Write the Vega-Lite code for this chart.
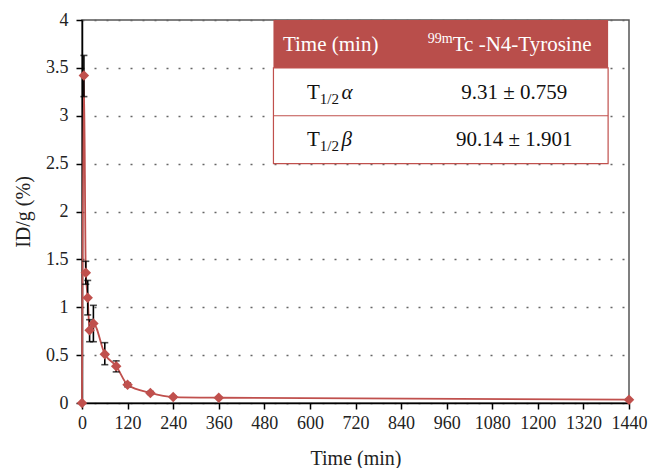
{
  "$schema": "https://vega.github.io/schema/vega-lite/v6.json",
  "width": 547,
  "height": 383,
  "autosize": {"type": "none"},
  "padding": {"left": 82, "top": 20, "right": 20, "bottom": 65},
  "background": "white",
  "config": {
    "font": "Liberation Serif",
    "text": {"font": "Liberation Serif"},
    "view": {"stroke": "#555555", "strokeWidth": 1.5},
    "axis": {
      "domainColor": "black",
      "domainWidth": 1.5,
      "tickColor": "black",
      "tickWidth": 1.5,
      "tickSize": 6,
      "labelFont": "Liberation Serif",
      "titleFont": "Liberation Serif",
      "labelFontSize": 18,
      "titleFontSize": 20,
      "labelColor": "#222222",
      "titleColor": "#222222",
      "titleFontWeight": "normal"
    }
  },
  "data": {
    "values": [
      {"time": 0, "value": 0, "lo": 0, "hi": 0},
      {"time": 5, "value": 3.42, "lo": 3.2, "hi": 3.63},
      {"time": 10, "value": 1.36, "lo": 1.24, "hi": 1.48},
      {"time": 15, "value": 1.1, "lo": 0.92, "hi": 1.28},
      {"time": 20, "value": 0.76, "lo": 0.64, "hi": 0.87},
      {"time": 30, "value": 0.83, "lo": 0.64, "hi": 1.02},
      {"time": 60, "value": 0.51, "lo": 0.4, "hi": 0.63},
      {"time": 90, "value": 0.385, "lo": 0.325, "hi": 0.44},
      {"time": 120, "value": 0.19, "lo": 0.17, "hi": 0.21},
      {"time": 180, "value": 0.105, "lo": 0.09, "hi": 0.12},
      {"time": 240, "value": 0.062, "lo": 0.055, "hi": 0.07},
      {"time": 360, "value": 0.055, "lo": 0.05, "hi": 0.06},
      {"time": 1440, "value": 0.035, "lo": 0.032, "hi": 0.038}
    ]
  },
  "layer": [
    {
      "data": {"values": [{"part": "header"}]},
      "mark": {"type": "rect", "fill": "#b94e4b"},
      "encoding": {
        "x": {"datum": 504, "type": "quantitative"},
        "x2": {"datum": 1385},
        "y": {"datum": 4, "type": "quantitative"},
        "y2": {"datum": 3.5}
      }
    },
    {
      "data": {"values": [{"part": "body"}]},
      "mark": {"type": "rect", "fill": "white", "stroke": "#c0504d", "strokeWidth": 1.2},
      "encoding": {
        "x": {"datum": 504, "type": "quantitative"},
        "x2": {"datum": 1385},
        "y": {"datum": 3.5, "type": "quantitative"},
        "y2": {"datum": 2.5}
      }
    },
    {
      "data": {"values": [{"part": "divider"}]},
      "mark": {"type": "rule", "color": "#c0504d", "strokeWidth": 1.2},
      "encoding": {
        "x": {"datum": 504, "type": "quantitative"},
        "x2": {"datum": 1385},
        "y": {"datum": 3.0, "type": "quantitative"}
      }
    },
    {
      "data": {"values": [{"label": "Time (min)"}]},
      "mark": {"type": "text", "font": "Liberation Serif", "align": "left", "baseline": "alphabetic", "fontSize": 21, "color": "white"},
      "encoding": {
        "x": {"datum": 529, "type": "quantitative"},
        "y": {"datum": 3.68, "type": "quantitative"},
        "text": {"field": "label"}
      }
    },
    {
      "data": {"values": [{"label": "99m"}]},
      "mark": {"type": "text", "font": "Liberation Serif", "align": "right", "baseline": "alphabetic", "fontSize": 14, "dy": -8, "color": "white"},
      "encoding": {
        "x": {"datum": 976, "type": "quantitative"},
        "y": {"datum": 3.68, "type": "quantitative"},
        "text": {"field": "label"}
      }
    },
    {
      "data": {"values": [{"label": "Tc -N4-Tyrosine"}]},
      "mark": {"type": "text", "font": "Liberation Serif", "align": "left", "baseline": "alphabetic", "fontSize": 21, "color": "white"},
      "encoding": {
        "x": {"datum": 976, "type": "quantitative"},
        "y": {"datum": 3.68, "type": "quantitative"},
        "text": {"field": "label"}
      }
    },
    {
      "data": {"values": [{"label": "T", "row": 3.17}, {"label": "T", "row": 2.68}]},
      "mark": {"type": "text", "font": "Liberation Serif", "align": "right", "baseline": "alphabetic", "fontSize": 21, "color": "#111111"},
      "encoding": {
        "x": {"datum": 626, "type": "quantitative"},
        "y": {"field": "row", "type": "quantitative"},
        "text": {"field": "label"}
      }
    },
    {
      "data": {"values": [{"label": "1/2", "row": 3.17}, {"label": "1/2", "row": 2.68}]},
      "mark": {"type": "text", "font": "Liberation Serif", "align": "left", "baseline": "alphabetic", "fontSize": 15, "dy": 5, "color": "#111111"},
      "encoding": {
        "x": {"datum": 626, "type": "quantitative"},
        "y": {"field": "row", "type": "quantitative"},
        "text": {"field": "label"}
      }
    },
    {
      "data": {"values": [{"label": "α", "row": 3.17}, {"label": "β", "row": 2.68}]},
      "mark": {"type": "text", "font": "Liberation Serif", "align": "left", "baseline": "alphabetic", "fontSize": 21, "fontStyle": "italic", "color": "#111111"},
      "encoding": {
        "x": {"datum": 683, "type": "quantitative"},
        "y": {"field": "row", "type": "quantitative"},
        "text": {"field": "label"}
      }
    },
    {
      "data": {"values": [{"label": "9.31 ± 0.759", "row": 3.17}, {"label": "90.14 ± 1.901", "row": 2.68}]},
      "mark": {"type": "text", "font": "Liberation Serif", "align": "center", "baseline": "alphabetic", "fontSize": 21, "color": "#111111"},
      "encoding": {
        "x": {"datum": 1138, "type": "quantitative"},
        "y": {"field": "row", "type": "quantitative"},
        "text": {"field": "label"}
      }
    },
    {
      "mark": {"type": "line", "color": "#c0504d", "strokeWidth": 1.8, "interpolate": "monotone"},
      "encoding": {
        "x": {
          "field": "time",
          "type": "quantitative",
          "title": "Time (min)",
          "scale": {"domain": [0, 1440], "nice": false, "zero": true},
          "axis": {
            "title": "Time (min)",
            "values": [0, 120, 240, 360, 480, 600, 720, 840, 960, 1080, 1200, 1320, 1440],
            "format": "d",
            "grid": false,
            "labelPadding": 5,
            "titlePadding": 16,
            "labelFlush": false,
            "labelOverlap": false
          }
        },
        "y": {
          "field": "value",
          "type": "quantitative",
          "title": "ID/g (%)",
          "scale": {"domain": [0, 4], "nice": false},
          "axis": {
            "title": "ID/g (%)",
            "values": [0, 0.5, 1, 1.5, 2, 2.5, 3, 3.5, 4],
            "format": "~g",
            "grid": true,
            "gridColor": "#666666",
            "gridDash": [2, 10],
            "gridWidth": 1.4,
            "labelPadding": 8,
            "titlePadding": 12,
            "labelFlush": false
          }
        }
      }
    },
    {
      "transform": [{"filter": "datum.hi > datum.lo"}],
      "mark": {"type": "errorbar", "color": "black", "thickness": 1.6, "ticks": {"size": 7, "color": "black", "thickness": 1.6}},
      "encoding": {
        "x": {"field": "time", "type": "quantitative", "title": "Time (min)"},
        "y": {"field": "lo", "type": "quantitative", "title": "ID/g (%)"},
        "y2": {"field": "hi"}
      }
    },
    {
      "mark": {"type": "point", "shape": "diamond", "filled": true, "color": "#c0504d", "size": 110, "opacity": 1},
      "encoding": {
        "x": {"field": "time", "type": "quantitative", "title": "Time (min)"},
        "y": {"field": "value", "type": "quantitative", "title": "ID/g (%)"}
      }
    }
  ]
}
